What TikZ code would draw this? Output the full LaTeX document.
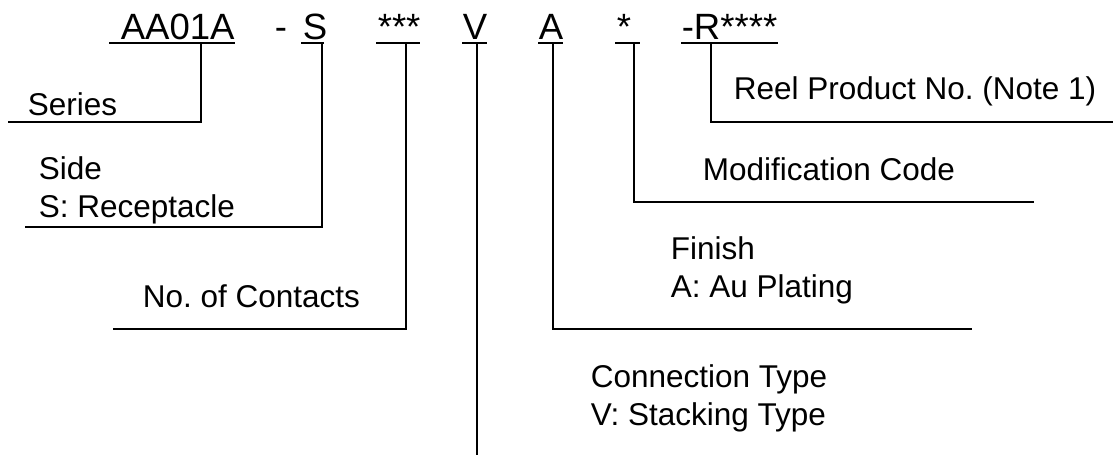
\documentclass[tikz,border=0pt]{standalone}
\usepackage{fontspec}
\setmainfont{Liberation Sans}
\frenchspacing
\begin{document}
\begin{tikzpicture}[x=0.025cm,y=-0.025cm,line width=1.1pt,
    code/.style={anchor=base west,inner sep=0pt,font=\fontsize{26}{31}\selectfont},
    lbl/.style={anchor=base west,inner sep=0pt,align=left,font=\fontsize{22.4}{27}\selectfont}]
  \useasboundingbox (0,0) rectangle (1115,455);
  % part number
  \node[code] (c1) at (120,39) {AA01A};
  \node[code] (c2) at (274,39) {-};
  \node[code] (c3) at (302,39) {S};
  \node[code] (c4) at (377,39) {***};
  \node[code] (c5) at (462,39) {V};
  \node[code] (c6) at (538,39) {A};
  \node[code] (c7) at (616,39) {*};
  \node[code] (c8) at (681,39) {-R****};
  \foreach \a/\b in {109/235,301/324,376/420,462/487,538/563,615/640,681/778}
    \draw (\a,43) -- (\b,43);
  % labels (two-line ones sit on their last line)
  \node[lbl] (l1) at (27,115) {Series};
  \node[lbl] (l2) at (38,217) {Side\\S: Receptacle};
  \node[lbl] (l3) at (142,307) {No. of Contacts};
  \node[lbl] (l4) at (590,425) {Connection Type\\V: Stacking Type};
  \node[lbl] (l5) at (670,297) {Finish\\A: Au Plating};
  \node[lbl] (l6) at (702,180) {Modification Code};
  \node[lbl] (l7) at (733,99) {Reel Product No. (Note 1)};
  % leaders
  \coordinate (u1) at (201,43);  \coordinate (e1) at (8,122);
  \coordinate (u2) at (322,43);  \coordinate (e2) at (25,227);
  \coordinate (u3) at (406,43);  \coordinate (e3) at (113,329);
  \coordinate (u4) at (477,43);  \coordinate (e4) at (477,455);
  \coordinate (u5) at (553,43);  \coordinate (e5) at (972,329);
  \coordinate (u6) at (634,43);  \coordinate (e6) at (1034,202);
  \coordinate (u7) at (711,43);  \coordinate (e7) at (1113,122);
  \draw (u1) |- (e1);
  \draw (u2) |- (e2);
  \draw (u3) |- (e3);
  \draw (u4) -- (e4);
  \draw (u5) |- (e5);
  \draw (u6) |- (e6);
  \draw (u7) |- (e7);
\end{tikzpicture}
\end{document}
